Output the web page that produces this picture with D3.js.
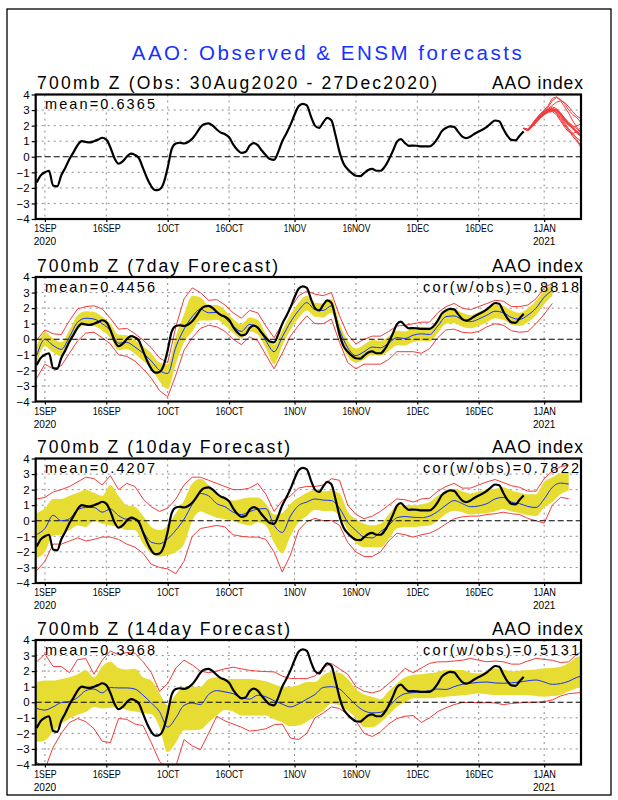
<!DOCTYPE html>
<html><head><meta charset="utf-8">
<script src="https://cdn.jsdelivr.net/npm/d3@7"></script>
<style>body{margin:0;background:#fff}svg{display:block}</style>
</head><body>
<svg id="c" width="618" height="800"></svg>
<script>
// ---------------- DATA ----------------
// day index: 0 = 1 Sep 2020
const tickDays   = [0, 15, 30, 45, 61, 76, 91, 106, 122];
const tickLabels = ["1SEP","16SEP","1OCT","16OCT","1NOV","16NOV","1DEC","16DEC","1JAN"];
const yearTickDays = [0, 122];
const yearLabels   = ["2020", "2021"];
const yTicks = [-4,-3,-2,-1,0,1,2,3,4];

// observed AAO index, daily 30Aug2020 (day -2) .. 27Dec2020 (day 117)
const obsStart = -2;
const obs = [-1.65,-1.2,-1.0,-0.9,-1.85,-1.9,-1.2,-0.7,-0.15,0.3,
 0.75,1.0,0.95,0.92,1.0,1.1,1.22,1.1,0.6,-0.1,
 -0.45,-0.3,0.0,0.2,0.12,-0.1,-0.75,-1.4,-1.9,-2.15,
 -2.1,-1.7,-0.7,0.5,0.85,0.9,0.85,0.95,1.15,1.5,
 1.9,2.1,2.15,2.0,1.75,1.55,1.45,1.25,0.8,0.45,
 0.25,0.3,0.7,0.88,0.75,0.4,0.1,-0.15,-0.2,0.3,
 1.0,1.5,2.05,2.7,3.25,3.4,3.3,2.6,2.0,1.85,
 2.2,2.5,2.35,1.4,0.3,-0.45,-0.8,-1.05,-1.22,-1.25,
 -1.05,-0.85,-0.78,-0.9,-0.9,-0.65,-0.2,0.35,0.95,1.13,
 0.88,0.7,0.72,0.7,0.67,0.67,0.67,0.85,1.2,1.65,
 1.85,1.95,1.92,1.6,1.3,1.2,1.3,1.48,1.62,1.75,
 1.92,2.15,2.33,2.28,1.8,1.35,1.08,1.05,1.35,1.63];

// ensemble member forecasts from 27Dec2020 (day 117) to day 131
const spagStart = 117;
const spagMembers = [
 [1.82,1.7,1.95,2.3,2.55,2.8,3.0,3.05,2.8,2.4,2.0,1.7,1.4,1.1,0.7],
 [1.82,1.75,2.0,2.35,2.6,2.9,3.2,3.6,3.8,3.7,3.4,3.0,2.7,2.5,2.2],
 [1.82,1.68,1.9,2.2,2.5,2.75,2.95,3.0,2.9,2.6,2.2,1.8,1.5,1.2,1.0],
 [1.82,1.72,2.05,2.4,2.7,2.95,3.1,3.3,3.5,3.6,3.5,3.2,2.9,2.6,2.45],
 [1.82,1.7,1.95,2.25,2.5,2.7,2.85,2.9,2.7,2.3,1.9,1.6,1.5,1.6,1.9],
 [1.82,1.74,2.0,2.3,2.6,2.85,3.05,3.2,3.1,2.8,2.4,2.1,1.8,1.5,1.3],
 [1.82,1.7,1.9,2.2,2.45,2.7,2.9,2.95,3.0,2.8,2.5,2.2,2.0,1.8,1.6],
 [1.82,1.75,2.1,2.45,2.75,3.0,3.3,3.75,3.85,3.6,3.2,2.8,2.3,1.9,1.5],
 [1.82,1.7,1.95,2.3,2.6,2.8,3.0,3.1,3.0,2.7,2.3,2.0,1.9,2.0,2.1],
 [1.82,1.72,2.0,2.3,2.55,2.75,2.9,2.95,2.85,2.5,2.1,1.7,1.3,1.0,0.6]
];
const spagMean = [1.82,1.72,1.98,2.3,2.58,2.82,3.0,3.05,3.0,2.75,2.4,2.1,1.85,1.6,1.4];

// 7-day forecast (every 2 days from day -2)
const f7Start = -2;
const f7Mean = [-1.05,0.0,-0.4,-0.65,0.15,1.1,1.35,1.3,1.0,0.55,-0.25,-0.2,-0.5,-0.9,-1.4,-2.0,-2.2,-0.5,0.65,1.45,1.93,1.7,1.72,1.37,0.85,0.5,0.95,0.78,-0.1,-0.8,0.15,1.1,1.85,2.35,1.9,1.85,2.15,0.6,-0.55,-1.05,-0.8,-0.5,-0.55,-0.25,0.1,0.05,0.26,0.35,0.3,0.85,1.45,1.5,1.25,1.13,1.3,1.55,1.8,1.7,1.4,1.28,1.55,2.0,2.7,3.15];
const f7BandLo = [-1.6,-0.45,-0.85,-1.1,-0.3,0.65,0.9,0.85,0.55,0.1,-0.7,-0.65,-0.95,-1.4,-1.9,-2.7,-3.2,-1.6,-0.2,0.5,1.2,1.2,1.25,0.9,0.4,0.05,0.5,0.3,-0.6,-1.6,-0.4,0.6,1.35,1.85,1.45,1.4,1.7,0.1,-1.1,-1.5,-1.3,-1.0,-1.05,-0.75,-0.4,-0.4,-0.2,-0.1,-0.15,0.4,1.0,1.05,0.8,0.7,0.85,1.1,1.35,1.25,0.95,0.85,1.1,1.55,2.25,2.8];
const f7BandHi = [-0.4,0.45,0.05,-0.2,0.6,1.55,1.8,1.75,1.45,1.0,0.3,0.25,-0.05,-0.45,-0.9,-1.5,-1.6,0.2,1.6,2.8,2.7,2.2,2.2,1.85,1.3,0.95,1.4,1.25,0.35,-0.35,0.6,1.6,2.35,2.8,2.35,2.3,2.6,1.05,-0.1,-0.6,-0.35,-0.05,-0.1,0.2,0.55,0.5,0.7,0.8,0.75,1.3,1.9,1.95,1.7,1.55,1.75,2.0,2.25,2.15,1.85,1.7,2.0,2.45,3.15,3.5];
const f7RedLo = [-2.5,-1.6,-1.9,-1.7,-0.9,-0.1,0.4,0.45,0.1,-0.3,-1.0,-1.1,-1.4,-1.9,-2.5,-3.3,-3.7,-2.3,-0.7,0.1,0.7,0.9,0.8,0.5,0.0,-0.35,0.15,-0.1,-1.0,-1.9,-0.9,0.2,0.9,1.5,1.0,1.0,1.3,-0.2,-1.5,-1.9,-1.6,-1.6,-1.6,-1.3,-0.8,-0.8,-0.8,-0.9,-0.6,0.1,0.6,0.65,0.45,0.4,0.5,0.8,1.0,0.9,0.55,0.45,0.5,1.0,1.6,2.3];
const f7RedHi = [-0.05,0.6,0.35,0.3,1.2,1.95,2.1,2.15,1.95,1.35,0.65,0.7,0.35,-0.05,-0.55,-1.2,-1.5,0.8,2.6,3.3,3.0,2.5,2.55,2.2,1.7,1.35,1.85,1.7,0.85,0.1,1.0,2.0,2.8,3.1,2.9,2.8,3.0,1.5,0.3,-0.3,0.0,0.2,0.2,0.5,0.85,0.9,1.0,1.1,1.1,1.7,2.1,2.3,2.0,1.9,2.1,2.3,2.5,2.45,2.1,2.1,2.2,2.6,3.3,3.6];

// 10-day forecast (every 2 days from day -2)
const f10Start = -2;
const f10Mean = [-0.88,-0.5,0.35,0.0,0.13,0.7,0.85,0.85,0.55,0.75,0.33,0.1,0.12,-0.7,-1.38,-1.48,-1.16,-0.6,0.1,1.05,1.75,1.6,1.1,0.9,0.55,0.4,0.58,0.75,0.78,-0.3,-0.75,0.3,0.98,1.2,1.4,
 1.33,1.3,0.8,-0.1,-0.62,-1.05,-1.1,-0.7,-0.3,0.2,0.27,0.22,0.2,0.3,0.6,1.0,1.3,1.1,0.9,0.95,1.1,1.4,1.5,1.2,1.1,0.92,0.85,1.4,2.15,2.42,2.35];
const f10BandLo = [-2.4,-2.0,-0.95,-0.9,-0.6,-0.3,-0.4,0.0,-0.2,-0.3,-0.4,-0.6,-0.6,-1.5,-2.1,-2.3,-2.2,-2.0,-1.5,0.0,0.6,0.4,0.2,0.1,0.0,-0.2,-0.3,-0.1,-0.3,-1.4,-2.1,-1.0,-0.1,0.3,0.7,
 0.62,0.65,0.3,-0.6,-1.4,-1.7,-1.7,-1.7,-1.2,-0.5,-0.4,-0.4,-0.35,-0.3,0.0,0.45,0.65,0.55,0.4,0.45,0.5,0.6,0.75,0.6,0.5,0.35,0.3,0.85,1.2,1.7,1.95];
const f10BandHi = [0.5,0.8,1.4,1.4,1.6,1.8,2.0,1.8,1.6,2.3,1.6,1.0,0.9,0.3,-0.4,-0.6,-0.3,0.5,1.3,2.4,2.7,2.3,1.8,1.4,1.3,1.4,1.5,1.5,1.1,0.4,0.5,1.1,1.5,1.8,2.0,
 1.9,1.95,1.75,0.6,0.1,-0.2,-0.3,-0.2,0.4,0.95,1.0,1.0,1.05,1.2,1.6,1.9,2.05,1.9,1.75,1.9,2.0,2.05,2.15,1.95,1.8,1.7,1.7,2.5,2.8,3.05,3.15];
const f10RedLo = [-3.2,-2.6,-1.5,-1.5,-1.3,-1.1,-1.3,-1.2,-1.05,-1.05,-1.2,-1.5,-1.7,-2.1,-2.8,-3.0,-3.1,-3.4,-2.6,-1.0,-0.5,-0.4,-0.3,-0.4,-0.9,-1.0,-1.05,-1.05,-1.2,-2.0,-3.3,-2.2,-0.6,-0.05,0.15,
 0.0,0.02,-0.3,-1.4,-2.0,-2.3,-2.3,-2.0,-1.3,-0.8,-0.9,-1.05,-0.9,-0.8,-0.55,-0.2,0.13,0.25,0.3,0.3,0.4,0.45,0.55,0.45,0.4,0.15,0.0,-0.15,1.0,1.5,1.42];
const f10RedHi = [1.4,1.5,1.85,2.0,2.2,2.5,2.8,2.7,2.3,2.9,2.0,2.4,2.2,1.4,0.9,0.6,0.8,1.4,2.3,2.8,2.8,2.6,2.4,2.2,2.0,2.0,2.1,2.4,1.7,0.6,1.3,1.6,2.1,2.2,2.2,
 2.3,2.7,2.6,1.0,0.4,0.13,0.3,0.6,1.0,1.4,1.35,1.2,1.4,1.45,1.9,2.2,2.4,2.1,2.1,2.3,2.5,2.65,2.45,2.25,2.15,1.9,1.9,2.7,3.2,3.47,3.58];

// 14-day forecast (every 2 days from day -2, last value at day 131)
const f14Start = -2;
const f14Mean = [-0.4,-0.5,-0.3,-0.02,0.05,0.3,0.75,0.85,0.6,0.95,0.92,0.92,0.85,0.45,-0.05,-0.6,-1.6,-1.0,-0.2,-0.05,-0.15,0.5,0.75,0.66,0.55,0.3,0.2,0.45,0.35,0.1,-0.12,-0.3,-0.1,0.2,0.5,
 0.95,1.0,0.85,0.35,-0.17,-0.55,-0.68,-0.65,-0.3,0.25,0.55,0.62,0.66,0.75,0.85,0.82,1.0,1.15,1.22,1.28,1.3,1.24,1.22,1.25,1.3,1.38,1.43,1.3,1.15,1.2,1.35,1.6,1.68];
const f14BandLo = [-2.55,-2.45,-1.9,-1.4,-1.05,-0.8,-0.62,-0.3,-0.4,-0.35,-0.3,-0.5,-0.6,-0.7,-0.75,-1.6,-3.2,-2.6,-1.8,-1.8,-1.75,-1.3,-0.85,-0.5,-0.6,-0.85,-0.85,-0.85,-0.85,-1.1,-1.3,-1.55,-1.5,-1.25,-0.9,
 -0.55,-0.1,-0.2,-0.55,-1.0,-1.6,-1.6,-1.3,-0.8,-0.3,0.0,0.25,0.26,0.26,0.3,0.36,0.4,0.45,0.5,0.56,0.52,0.47,0.47,0.47,0.47,0.45,0.4,0.36,0.4,0.47,0.7,0.9,0.95];
const f14BandHi = [1.3,1.4,1.4,1.5,1.6,1.8,2.05,1.6,2.3,2.6,2.2,2.1,2.15,1.6,1.4,0.6,-0.2,0.5,1.0,1.0,1.0,1.5,1.6,1.5,1.5,1.5,1.5,1.45,1.35,1.15,1.0,1.0,1.1,1.3,1.3,
 1.75,1.95,1.9,1.5,0.85,0.5,0.35,0.2,0.7,1.2,1.6,1.75,1.8,1.86,1.95,2.07,2.07,2.07,1.9,1.86,2.0,2.18,2.1,2.0,2.03,2.07,2.1,2.18,2.2,2.28,2.5,2.9,2.95];
const f14RedLo = [-3.85,-4.3,-2.9,-2.0,-1.3,-1.05,-1.25,-1.7,-2.5,-2.6,-1.05,-1.1,-1.4,-1.5,-2.6,-3.8,-4.3,-4.1,-2.4,-2.8,-3.05,-2.0,-0.9,-1.2,-1.4,-1.6,-1.85,-1.8,-1.7,-1.45,-1.4,-2.3,-2.4,-2.0,-1.0,
 -0.7,-0.3,-0.4,-0.8,-1.2,-2.0,-2.2,-1.9,-1.4,-1.05,-0.9,-0.85,-1.3,-1.0,-0.6,-0.35,-0.15,-0.02,0.0,-0.04,-0.02,-0.05,-0.15,-0.08,-0.04,0.0,0.0,0.04,0.15,0.4,0.55,0.6,0.62];
const f14RedHi = [2.6,3.1,2.3,2.3,1.9,2.75,2.8,1.8,2.7,3.3,3.05,3.2,3.15,2.6,1.9,0.7,1.2,2.2,2.7,2.4,2.0,1.9,2.0,2.15,2.25,2.15,2.05,2.0,1.97,1.95,1.68,1.52,1.52,1.52,1.7,
 2.2,2.5,2.15,1.8,1.0,0.7,0.6,0.75,1.2,1.65,2.18,1.9,2.2,2.5,2.6,2.6,2.65,2.7,2.82,2.7,2.6,2.65,2.6,2.45,2.45,2.65,2.82,2.75,2.7,2.55,2.6,3.1,3.2];

const panelTitles = ["700mb Z (Obs: 30Aug2020 - 27Dec2020)","700mb Z (7day Forecast)","700mb Z (10day Forecast)","700mb Z (14day Forecast)"];
const meanLabels = ["mean=0.6365","mean=0.4456","mean=0.4207","mean=0.3968"];
const corLabels  = [null,"cor(w/obs)=0.8818","cor(w/obs)=0.7822","cor(w/obs)=0.5131"];

// ---------------- DRAWING ----------------
const svg = d3.select("#c");
const W = 618, H = 800;
const L = 35.7, R = 581, PH = 124.5;
const tops = [94.5, 277, 458.5, 640];
const subW = [400, 241, 253, 253];
const FONT = "'Liberation Sans', Arial, sans-serif";
const NARROW = "'Liberation Sans Narrow','Liberation Sans', sans-serif";
const YEL = "#e6dc32", RED = "#f23c3c", BLUE = "#1432ff";

svg.append("rect").attr("width", W).attr("height", H).attr("fill", "#fff");
svg.append("rect").attr("x", 7).attr("y", 9).attr("width", 604).attr("height", 786)
  .attr("fill", "none").attr("stroke", "#000").attr("stroke-width", 1.3);

svg.append("text").attr("x", 326.7).attr("y", 60).attr("text-anchor", "middle")
  .attr("font-family", FONT).attr("font-size", 20.5).attr("fill", BLUE)
  .attr("textLength", 390).attr("lengthAdjust", "spacing")
  .text("AAO: Observed & ENSM forecasts");

const x = d3.scaleLinear().domain([-2.25, 131]).range([L, R]);

const series = (start, vals, step) => vals.map((v, i) => ({d: start + i * step, v}));
const fcDays = (start, n, last) => d3.range(n).map(i => (last !== undefined && i === n - 1) ? last : start + 2 * i);

const fcSets = [null,
  {start: f7Start, mean: f7Mean, lo: f7BandLo, hi: f7BandHi, rlo: f7RedLo, rhi: f7RedHi},
  {start: f10Start, mean: f10Mean, lo: f10BandLo, hi: f10BandHi, rlo: f10RedLo, rhi: f10RedHi},
  {start: f14Start, mean: f14Mean, lo: f14BandLo, hi: f14BandHi, rlo: f14RedLo, rhi: f14RedHi, last: 131}
];

tops.forEach((top, p) => {
  const y = d3.scaleLinear().domain([-4, 4]).range([top + PH, top]);
  const g = svg.append("g");
  const cid = "clip" + p;
  svg.append("clipPath").attr("id", cid).append("rect")
    .attr("x", L).attr("y", top).attr("width", R - L).attr("height", PH);

  // grid
  const grid = g.append("g");
  yTicks.filter(t => t !== 0 && Math.abs(t) !== 4).forEach(t => {
    grid.append("line").attr("x1", L).attr("x2", R).attr("y1", y(t)).attr("y2", y(t))
      .attr("stroke", "#8c8c8c").attr("stroke-width", 1).attr("stroke-dasharray", "2,4");
  });
  tickDays.forEach(t => {
    grid.append("line").attr("x1", x(t)).attr("x2", x(t)).attr("y1", top).attr("y2", top + PH)
      .attr("stroke", "#8c8c8c").attr("stroke-width", 1).attr("stroke-dasharray", "2,4");
  });

  const plot = g.append("g").attr("clip-path", `url(#${cid})`);

  const fc = fcSets[p];
  if (fc) {
    const days = fcDays(fc.start, fc.mean.length, fc.last);
    const rows = days.map((d, i) => ({d, m: fc.mean[i], lo: fc.lo[i], hi: fc.hi[i], rlo: fc.rlo[i], rhi: fc.rhi[i]}));
    plot.append("path").datum(rows).attr("fill", YEL)
      .attr("d", d3.area().x(r => x(r.d)).y0(r => y(r.lo)).y1(r => y(r.hi)).curve(d3.curveMonotoneX));
    ["rlo", "rhi"].forEach(k => {
      plot.append("path").datum(rows).attr("fill", "none").attr("stroke", RED).attr("stroke-width", 1)
        .attr("d", d3.line().x(r => x(r.d)).y(r => y(r[k])));
    });
  }

  // zero line
  plot.append("line").attr("x1", L).attr("x2", R).attr("y1", y(0)).attr("y2", y(0))
    .attr("stroke", "#000").attr("stroke-width", 1.2).attr("stroke-dasharray", "6,3");

  if (fc) {
    const days = fcDays(fc.start, fc.mean.length, fc.last);
    plot.append("path").datum(days.map((d, i) => ({d, v: fc.mean[i]})))
      .attr("fill", "none").attr("stroke", BLUE).attr("stroke-width", 1)
      .attr("d", d3.line().x(r => x(r.d)).y(r => y(r.v)).curve(d3.curveMonotoneX));
  } else {
    spagMembers.forEach(m => {
      plot.append("path").datum(series(spagStart, m, 1)).attr("fill", "none")
        .attr("stroke", RED).attr("stroke-width", 1)
        .attr("d", d3.line().x(r => x(r.d)).y(r => y(r.v)));
    });
    plot.append("path").datum(series(spagStart, spagMean, 1)).attr("fill", "none")
      .attr("stroke", RED).attr("stroke-width", 2)
      .attr("d", d3.line().x(r => x(r.d)).y(r => y(r.v)));
  }

  // observed
  plot.append("path").datum(series(obsStart, obs, 1)).attr("fill", "none")
    .attr("stroke", "#000").attr("stroke-width", 2.2).attr("stroke-linejoin", "round")
    .attr("d", d3.line().x(r => x(r.d)).y(r => y(r.v)).curve(d3.curveMonotoneX));

  // axes
  const ax = g.append("g").attr("transform", `translate(0,${top + PH})`)
    .call(d3.axisBottom(x).tickValues(tickDays).tickFormat((d, i) => tickLabels[i]).tickSize(3).tickPadding(2));
  ax.select(".domain").remove();
  ax.selectAll("line").attr("stroke", "#000").attr("stroke-width", 1.2);
  ax.selectAll("text").attr("font-family", NARROW).attr("font-size", 11.5).attr("fill", "#000")
    .attr("textLength", (d, i) => tickLabels[i].length * 5.6).attr("lengthAdjust", "spacingAndGlyphs");

  const ay = g.append("g").attr("transform", `translate(${L},0)`)
    .call(d3.axisLeft(y).tickValues(yTicks).tickFormat(d3.format("d")).tickSize(4).tickPadding(2));
  ay.select(".domain").remove();
  ay.selectAll("line").attr("stroke", "#000").attr("stroke-width", 1.2);
  ay.selectAll("text").attr("font-family", NARROW).attr("font-size", 11.5).attr("fill", "#000");

  // year labels
  yearTickDays.forEach((d, i) => {
    g.append("text").attr("x", x(d)).attr("y", top + PH + 26).attr("text-anchor", "middle")
      .attr("font-family", NARROW).attr("font-size", 11.5)
      .attr("textLength", 22.5).attr("lengthAdjust", "spacingAndGlyphs").text(yearLabels[i]);
  });

  // frame
  g.append("rect").attr("x", L).attr("y", top).attr("width", R - L).attr("height", PH)
    .attr("fill", "none").attr("stroke", "#000").attr("stroke-width", 2.2);

  // texts
  g.append("text").attr("x", 37).attr("y", top - 5.5).attr("font-family", FONT).attr("font-size", 17.5)
    .attr("textLength", subW[p]).attr("lengthAdjust", "spacing").text(panelTitles[p]);
  g.append("text").attr("x", 583).attr("y", top - 5.5).attr("text-anchor", "end")
    .attr("font-family", FONT).attr("font-size", 17.5)
    .attr("textLength", 91).attr("lengthAdjust", "spacing").text("AAO index");
  g.append("text").attr("x", 45).attr("y", top + 14.5).attr("font-family", FONT).attr("font-size", 14.5)
    .attr("textLength", 110).attr("lengthAdjust", "spacing").text(meanLabels[p]);
  if (corLabels[p]) {
    g.append("text").attr("x", 579).attr("y", top + 14.5).attr("text-anchor", "end")
      .attr("font-family", FONT).attr("font-size", 14.5)
      .attr("textLength", 156).attr("lengthAdjust", "spacing").text(corLabels[p]);
  }
});
</script>
</body></html>
